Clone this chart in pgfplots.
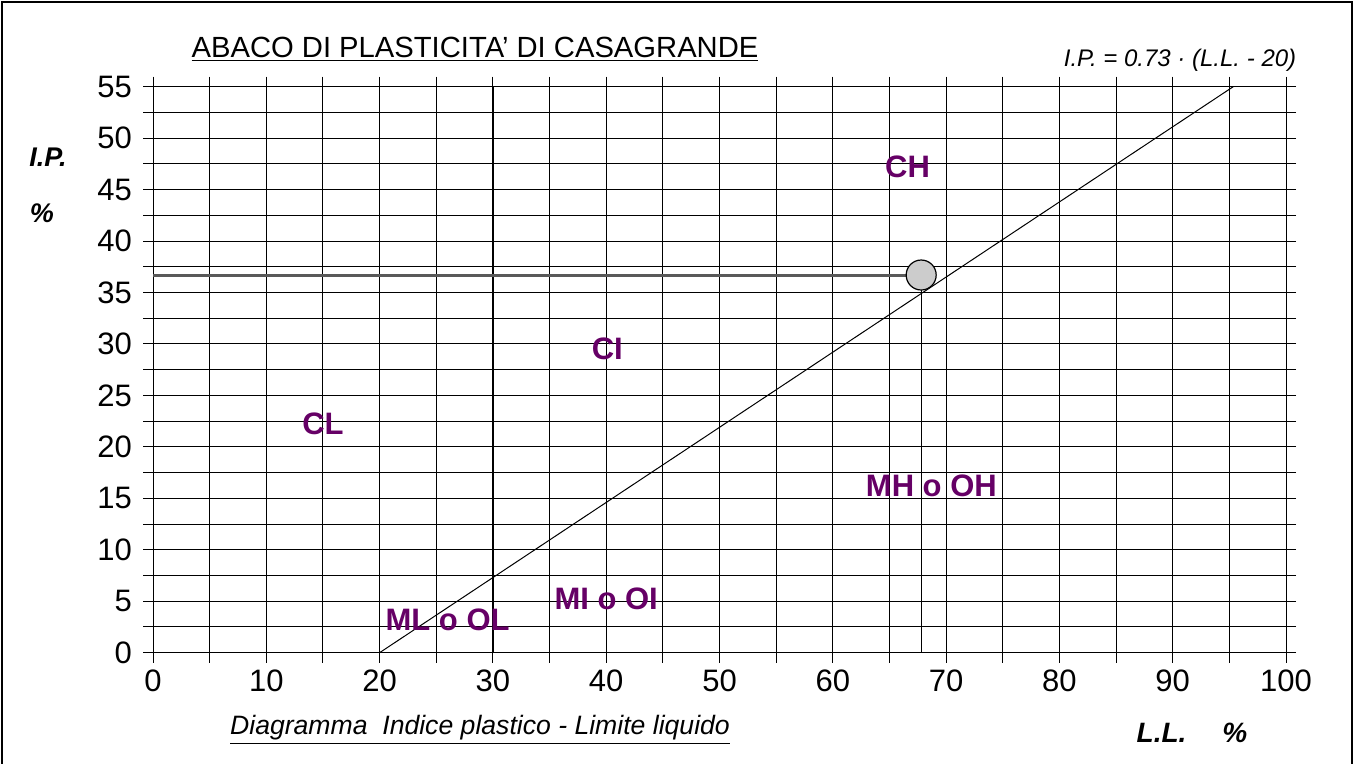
\documentclass[border=0pt]{standalone}
\usepackage{pgfplots}
\pgfplotsset{compat=1.18}
\usepackage{fontspec}
\setmainfont{Liberation Sans}
\definecolor{zone}{RGB}{102,0,102}
\begin{document}
\begin{tikzpicture}[x=1pt,y=1pt]
\path[use as bounding box] (0,0) rectangle (680,382);
\draw[black, line width=0.6pt] (1,-2) -- (1,381) -- (676,381) -- (676,-2);
\begin{axis}[
  at={(76.5pt,55.65pt)}, anchor=south west,
  scale only axis, width=566.5pt, height=283pt,
  xmin=0, xmax=100, ymin=0, ymax=55,
  xtick={0,10,...,100}, minor xtick={5,15,...,95},
  ytick={0,5,...,55}, minor ytick={2.5,7.5,...,52.5},
  grid=both,
  major grid style={black, line width=0.5pt},
  minor grid style={black, line width=0.5pt},
  tick align=outside, major tick length=5pt, minor tick length=5pt,
  tick style={black, line width=0.5pt},
  axis line style={black, line width=0.5pt},
  ticklabel style={font=\fontsize{15.5}{17}\selectfont},
  yticklabel style={xshift=-2pt},
  /pgf/number format/assume math mode=true,
  clip=false,
]
\addplot[black, line width=0.75pt, forget plot] coordinates {(30,0) (30,55)};
\addplot[black, line width=0.75pt, forget plot] coordinates {(50,0) (50,50)};
\addplot[black, line width=0.5pt] coordinates {(20,0) (95.342,55)};
\addplot[black!65, line width=1.5pt] coordinates {(0,36.7) (67.8,36.7)};
\addplot[black, line width=0.6pt] coordinates {(67.8,0) (67.8,36.7)};
\addplot[only marks, mark=*, mark size=7.5pt, mark options={fill=black!20, draw=black, line width=0.6pt}] coordinates {(67.8,36.7)};
\begin{scope}[every node/.style={text=zone, font=\fontsize{15.5}{17}\selectfont\bfseries}]
\node at (axis cs:66.6,47.2) {CH};
\node at (axis cs:40.1,29.5) {CI};
\node at (axis cs:15.0,22.2) {CL};
\node at (axis cs:68.7,16.2) {MH o OH};
\node at (axis cs:40.0,5.2) {MI o OI};
\node at (axis cs:26.0,3.2) {ML o OL};
\end{scope}
\end{axis}
\node[font=\fontsize{14.6}{16}\selectfont] at (237.5,357.5) {\underline{ABACO DI PLASTICITA' DI CASAGRANDE}};
\node[font=\fontsize{12}{14}\selectfont\itshape] at (590,352) {I.P. = 0.73 · (L.L. - 20)};
\node[font=\fontsize{13.5}{15}\selectfont\bfseries\itshape] at (24,303.5) {I.P.};
\node[font=\fontsize{13.5}{15}\selectfont\bfseries\itshape] at (21,275.5) {\%};
\node[font=\fontsize{13.3}{15}\selectfont\itshape] at (240,17) {\underline{Diagramma\ \ Indice plastico - Limite liquido}};
\node[font=\fontsize{14}{16}\selectfont\bfseries\itshape] at (596,15.5) {L.L.\hspace{18pt}\%};
\end{tikzpicture}
\end{document}
